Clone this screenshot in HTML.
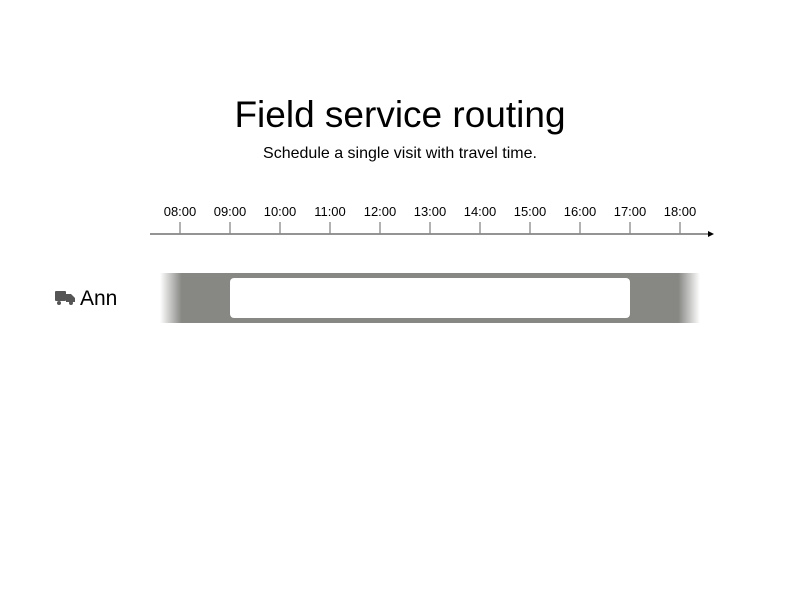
<!DOCTYPE html>
<html><head><meta charset="utf-8"><style>
body{margin:0;background:#fff;}
svg{display:block;font-family:"Liberation Sans",sans-serif;}
</style></head><body>
<svg width="800" height="600" viewBox="0 0 800 600">
<defs>
<linearGradient id="g" x1="160" x2="700" y1="0" y2="0" gradientUnits="userSpaceOnUse">
<stop offset="0" stop-color="#878884" stop-opacity="0"/>
<stop offset="0.04" stop-color="#878884" stop-opacity="1"/>
<stop offset="0.96" stop-color="#878884" stop-opacity="1"/>
<stop offset="1" stop-color="#878884" stop-opacity="0"/>
</linearGradient>
</defs>
<text x="400" y="127" font-size="37" text-anchor="middle" fill="#000">Field service routing</text>
<text x="400" y="158" font-size="16" text-anchor="middle" fill="#000">Schedule a single visit with travel time.</text>
<line x1="150" y1="234" x2="708" y2="234" stroke="#555" stroke-width="1.3"/>
<path d="M708,231 L714,234 L708,237 Z" fill="#000"/>
<g stroke="#888" stroke-width="1.3">
<line x1="180" y1="222" x2="180" y2="234"/><line x1="230" y1="222" x2="230" y2="234"/>
<line x1="280" y1="222" x2="280" y2="234"/><line x1="330" y1="222" x2="330" y2="234"/>
<line x1="380" y1="222" x2="380" y2="234"/><line x1="430" y1="222" x2="430" y2="234"/>
<line x1="480" y1="222" x2="480" y2="234"/><line x1="530" y1="222" x2="530" y2="234"/>
<line x1="580" y1="222" x2="580" y2="234"/><line x1="630" y1="222" x2="630" y2="234"/>
<line x1="680" y1="222" x2="680" y2="234"/>
</g>
<g font-size="13" text-anchor="middle" fill="#000">
<text x="180" y="216">08:00</text><text x="230" y="216">09:00</text><text x="280" y="216">10:00</text>
<text x="330" y="216">11:00</text><text x="380" y="216">12:00</text><text x="430" y="216">13:00</text>
<text x="480" y="216">14:00</text><text x="530" y="216">15:00</text><text x="580" y="216">16:00</text>
<text x="630" y="216">17:00</text><text x="680" y="216">18:00</text>
</g>
<rect x="160" y="273" width="540" height="50" fill="url(#g)"/>
<rect x="230" y="278" width="400" height="40" rx="4" fill="#fff"/>
<g fill="#555">
<rect x="55" y="291" width="11" height="10" rx="1"/>
<path d="M66,294 L71,294 L75,298 L75,302 L66,302 Z"/>
<circle cx="59" cy="303" r="2"/><circle cx="71" cy="303" r="2"/>
</g>
<text x="80" y="305" font-size="21" fill="#000">Ann</text>
</svg>
</body></html>
